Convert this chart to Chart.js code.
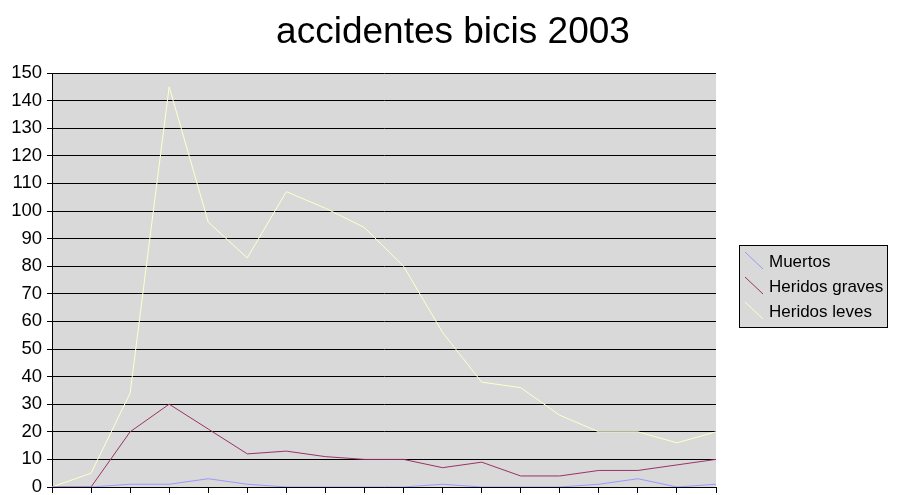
<!DOCTYPE html>
<html>
<head>
<meta charset="utf-8">
<script src="https://cdn.jsdelivr.net/npm/chart.js@4.4.1/dist/chart.umd.min.js"></script>
<style>
  html, body { margin: 0; padding: 0; background: #fff; }
  #wrap { width: 897px; height: 495px; }
</style>
</head>
<body>
<div id="wrap"><canvas id="mainChart" width="897" height="495"></canvas></div>
<script>
// data
const titulo = 'accidentes bicis 2003';
const periodos = ['1','2','3','4','5','6','7','8','9','10','11','12','13','14','15','16','17','18'];
const muertos       = [0, 0, 1, 1, 3, 1, 0, 0, 0, 0, 1, 0, 0, 0, 1, 3, 0, 1];
const heridosGraves = [0, 0, 20, 30, 21, 12, 13, 11, 10, 10, 7, 9, 4, 4, 6, 6, 8, 10];
const heridosLeves  = [0, 5, 34, 145, 96, 83, 107, 101, 94, 80, 56, 38, 36, 26, 20, 20, 16, 20];
const yTicks = [0, 10, 20, 30, 40, 50, 60, 70, 80, 90, 100, 110, 120, 130, 140, 150];

const FONT = '"Liberation Sans", Arial, sans-serif';

// gray plot background + title centred on the whole canvas
const plotBg = {
  id: 'plotBg',
  beforeDraw(chart) {
    const { ctx, chartArea: a } = chart;
    ctx.save();
    ctx.fillStyle = '#d9d9d9';
    ctx.fillRect(a.left, a.top, a.right - a.left, a.bottom - a.top);
    ctx.fillStyle = '#000';
    ctx.font = '37px ' + FONT;
    ctx.textAlign = 'center';
    ctx.textBaseline = 'alphabetic';
    ctx.fillText(titulo, 453, 43);
    ctx.restore();
  }
};

// excel-style legend box with diagonal line keys
const boxLegend = {
  id: 'boxLegend',
  afterDraw(chart) {
    const ctx = chart.ctx;
    ctx.save();
    ctx.fillStyle = '#d9d9d9';
    ctx.fillRect(739.5, 245.5, 148, 82);
    ctx.strokeStyle = '#000';
    ctx.lineWidth = 1;
    ctx.strokeRect(739.5, 245.5, 148, 82);
    ctx.font = '17px ' + FONT;
    ctx.textBaseline = 'middle';
    chart.data.datasets.forEach((ds, i) => {
      const y = 262 + i * 25;
      ctx.strokeStyle = ds.borderColor;
      ctx.beginPath();
      ctx.moveTo(745, y - 10);
      ctx.lineTo(763, y + 7);
      ctx.stroke();
      ctx.fillStyle = '#000';
      ctx.fillText(ds.label, 769, y);
    });
    ctx.restore();
  }
};

const ctx = document.getElementById('mainChart').getContext('2d');
const chart = new Chart(ctx, {
  type: 'line',
  data: {
    labels: periodos,
    datasets: [
      { label: 'Muertos', data: muertos, borderColor: '#9999ff' },
      { label: 'Heridos graves', data: heridosGraves, borderColor: '#993366' },
      { label: 'Heridos leves', data: heridosLeves, borderColor: '#ffffcc' }
    ].map(d => Object.assign(d, { borderWidth: 1, pointRadius: 0, tension: 0, fill: false }))
  },
  options: {
    responsive: false,
    animation: false,
    layout: { padding: { left: 0, right: 181, top: 73, bottom: 0 } },
    plugins: {
      legend: { display: false },
      tooltip: { enabled: false },
      title: { display: false }
    },
    scales: {
      x: {
        offset: false,
        ticks: { display: false },
        grid: { display: true, drawOnChartArea: false, drawTicks: true, tickLength: 6, color: '#000' },
        border: { color: '#000', width: 1 },
        afterFit(scale) { scale.height = 8; scale.paddingLeft = 0; scale.paddingRight = 0; }
      },
      y: {
        min: 0,
        max: 150,
        afterBuildTicks(scale) { scale.ticks = yTicks.map(v => ({ value: v })); },
        ticks: { color: '#000', font: { family: FONT, size: 18.5 }, padding: 5 },
        grid: { color: '#000', lineWidth: 1, tickLength: 5 },
        border: { color: '#000', width: 1 },
        afterFit(scale) { scale.width = 52; scale.paddingTop = 0; scale.paddingBottom = 0; }
      }
    }
  },
  plugins: [plotBg, boxLegend]
});
</script>
</body>
</html>
